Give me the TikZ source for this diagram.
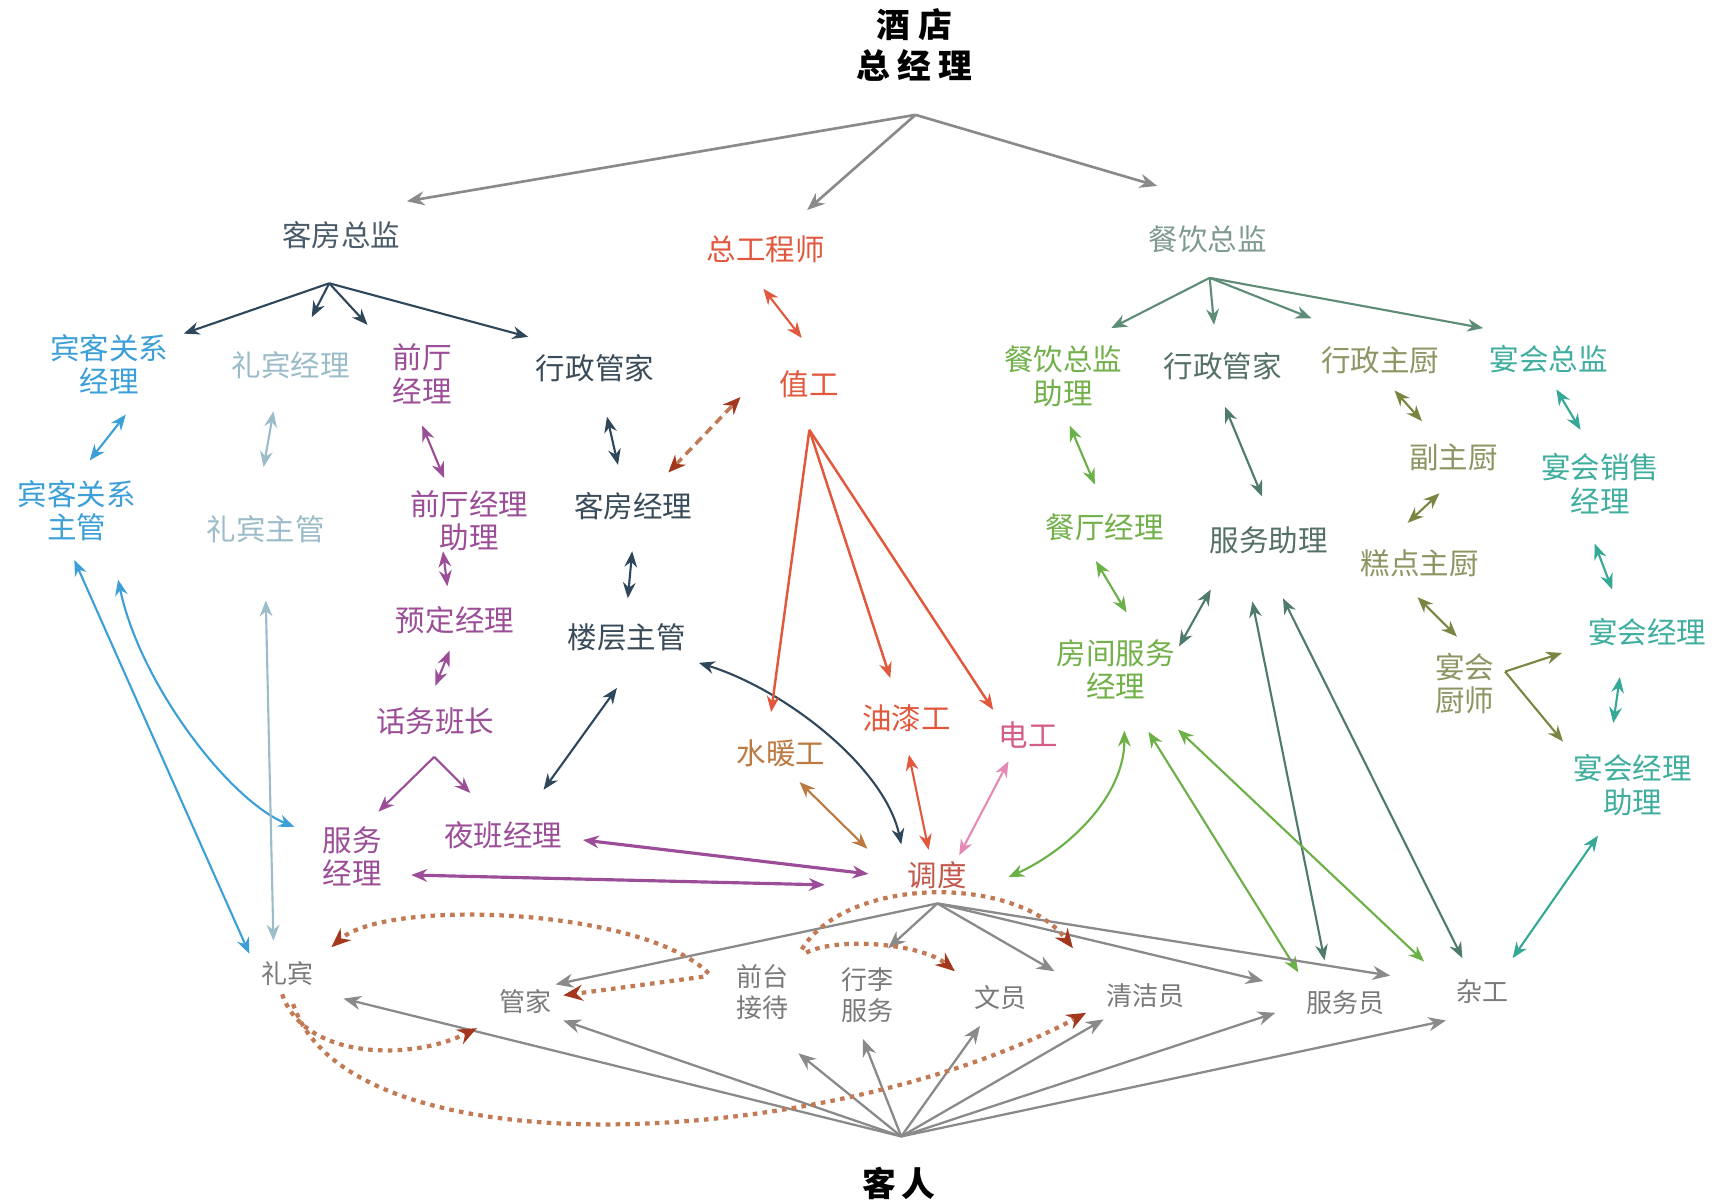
\documentclass[tikz,border=0pt]{standalone}
\usepackage{fontspec}
\setmainfont{Noto Sans CJK SC}
\usetikzlibrary{arrows.meta,calc}
\definecolor{cgray}{HTML}{8A8A8A}
\definecolor{ctg}{HTML}{7A7A7A}
\definecolor{cslate}{HTML}{4A5B68}
\definecolor{cnavy}{HTML}{2F475B}
\definecolor{cnavyt}{HTML}{3A4C5A}
\definecolor{csky}{HTML}{3C9FD8}
\definecolor{cpale}{HTML}{9BBCC8}
\definecolor{cpurple}{HTML}{9B4D97}
\definecolor{cred}{HTML}{E2583C}
\definecolor{cbrown}{HTML}{BC7A42}
\definecolor{cpink}{HTML}{D45C86}
\definecolor{cpinkl}{HTML}{E48AB4}
\definecolor{cdd}{HTML}{C4584A}
\definecolor{cfbg}{HTML}{7F9A90}
\definecolor{cfba}{HTML}{5E8C76}
\definecolor{cgreen}{HTML}{72B04A}
\definecolor{cgreena}{HTML}{6CB048}
\definecolor{cgteal}{HTML}{557068}
\definecolor{cgteala}{HTML}{4F7A6E}
\definecolor{colive}{HTML}{8E9462}
\definecolor{colivea}{HTML}{7C8442}
\definecolor{cteal}{HTML}{3FAE9E}
\definecolor{cteala}{HTML}{35A896}
\definecolor{cdot}{HTML}{C27A55}
\definecolor{cdotr}{HTML}{A3381F}
\newcommand\lblfont{\fontsize{8.4}{9.6}\selectfont}
\newcommand\smlfont{\fontsize{7.4}{8.7}\selectfont}
\newcommand\ttlfont{\fontsize{9.6}{11.8}\selectfont\bfseries}
\tikzset{
  >={Stealth[length=4.5pt,width=3.6pt]},
  lbl/.style={inner sep=1pt, align=center, font=\lblfont},
  sml/.style={inner sep=1pt, align=center, font=\smlfont, text=ctg},
  ttl/.style={inner sep=1pt, align=center, font=\ttlfont, text=black},
  one/.style={->, line width=0.6pt},
  two/.style={<->, line width=0.6pt},
  gar/.style={draw=cgray, line width=0.75pt, -{Stealth[length=5pt,width=4pt]}},
  dots/.style={draw=cdot, line width=1.2pt, dash pattern=on 1.3pt off 1.5pt, -{Stealth[length=5.5pt,width=4.5pt,color=cdotr]}},
  dsh/.style={draw=cdot, line width=1pt, dash pattern=on 2.5pt off 1.6pt, {Stealth[length=5pt,width=4.2pt,color=cdotr]}-{Stealth[length=5pt,width=4.2pt,color=cdotr]}}
}
\begin{document}
\begin{tikzpicture}[x=0.010938cm, y=-0.010938cm]
\fill[white] (0,0) rectangle (1568,1099);
\useasboundingbox (0,0) rectangle (1568,1099);
% ---------- nodes ----------
\node[ttl] (gm) at (836,41) {酒\hspace{0.25em}店\\总\hspace{0.22em}经\hspace{0.22em}理};
\coordinate (gmo) at (837,105);
\node[lbl, text=cslate] (kfzj) at (312,215) {客房总监};
\node[lbl, text=cred] (zgcs) at (700,228) {总工程师};
\node[lbl, text=cfbg] (cyzj) at (1104,219) {餐饮总监};
\coordinate (kfo) at (301,259);
\coordinate (cyo) at (1106,254);
\coordinate (zgo) at (740,393);
\coordinate (hwo) at (397,692);
\coordinate (ycso) at (1376,614);
\coordinate (ddo) at (857,826);
\coordinate (kro) at (824,1039);
\node[lbl, text=csky] (bkgl) at (100,333) {宾客关系\\经理};
\node[lbl, text=cpale] (lbjl) at (266,334) {礼宾经理};
\node[lbl, text=cpurple] (qtjl) at (386,342) {前厅\\经理};
\node[lbl, text=cnavyt] (xzgjL) at (544,337) {行政管家};
\node[lbl, text=cred] (zg) at (740,351) {值工};
\node[lbl, text=cgreen] (cyzl) at (972,344) {餐饮总监\\助理};
\node[lbl, text=cgteal] (xzgjR) at (1118,335) {行政管家};
\node[lbl, text=colive] (xzzc) at (1262,329) {行政主厨};
\node[lbl, text=cteal] (yhzj) at (1416,328) {宴会总监};
\node[lbl, text=csky] (bkzg) at (70,467) {宾客关系\\主管};
\node[lbl, text=cpale] (lbzg) at (243,484) {礼宾主管};
\node[lbl, text=cpurple] (qtzl) at (429,476) {前厅经理\\助理};
\node[lbl, text=cnavyt] (kfjl) at (579,463) {客房经理};
\node[lbl, text=cgreen] (ctjl) at (1010,482) {餐厅经理};
\node[lbl, text=cgteal] (fwzl) at (1160,494) {服务助理};
\node[lbl, text=colive] (fzc) at (1329,418) {副主厨};
\node[lbl, text=cteal] (yhxs) at (1463,442) {宴会销售\\经理};
\node[lbl, text=colive] (gdzc) at (1298,515) {糕点主厨};
\node[lbl, text=cpurple] (ydjl) at (416,567) {预定经理};
\node[lbl, text=cnavyt] (lczg) at (573,583) {楼层主管};
\node[lbl, text=cgreen] (fjfw) at (1020,612) {房间服务\\经理};
\node[lbl, text=colive] (yhcs) at (1339,625) {宴会\\厨师};
\node[lbl, text=cteal] (yhjl) at (1506,578) {宴会经理};
\node[lbl, text=cpurple] (hwbz) at (398,659) {话务班长};
\node[lbl, text=cbrown] (snng) at (714,689) {水暖工};
\node[lbl, text=cred] (yqg) at (829,657) {油漆工};
\node[lbl, text=cpink] (dg) at (940,672) {电工};
\node[lbl, text=cteal] (yhzl) at (1493,718) {宴会经理\\助理};
\node[lbl, text=cpurple] (fwjl) at (322,783) {服务\\经理};
\node[lbl, text=cpurple] (ybjl) at (460,764) {夜班经理};
\node[lbl, text=cdd] (dd) at (857,800) {调度};
\node[sml] (lb) at (263,890) {礼宾};
\node[sml] (gj) at (480,916) {管家};
\node[sml] (qt) at (697,907) {前台\\接待};
\node[sml] (xl) at (793,910) {行李\\服务};
\node[sml] (wy) at (915,912) {文员};
\node[sml] (qjy) at (1047,910) {清洁员};
\node[sml] (fwy) at (1230,917) {服务员};
\node[sml] (zgg) at (1355,907) {杂工};
\node[ttl] (kr) at (822,1082) {客\hspace{0.15em}人};
% ---------- general manager fan ----------
\draw[gar] (gmo) -- ($(kfzj)+(60,-31)$);
\draw[gar] (gmo) -- ($(zgcs)+(38,-36)$);
\draw[gar] (gmo) -- ($(cyzj)+(-46,-49)$);
% ---------- rooms division ----------
\draw[one, cnavy] (kfo) -- ($(bkgl)+(68,-28)$);
\draw[one, cnavy] (kfo) -- ($(lbjl)+(19,-44)$);
\draw[one, cnavy] (kfo) -- ($(qtjl)+(-50,-45)$);
\draw[one, cnavy] (kfo) -- ($(xzgjL)+(-61,-29)$);
\draw[two, csky] ($(bkgl)+(15,46)$) -- ($(bkzg)+(12,-46)$);
\draw[two, cpale] ($(lbjl)+(-16,42)$) -- ($(lbzg)+(-2,-57)$);
\draw[two, cpurple] ($(qtjl)+(0,47)$) -- ($(qtzl)+(-23,-39)$);
\draw[two, cpurple] ($(qtzl)+(-24,28)$) -- ($(ydjl)+(-7,-31)$);
\draw[two, cpurple] ($(ydjl)+(-5,28)$) -- ($(hwbz)+(0,-32)$);
\draw[one, cpurple] (hwo) -- ($(fwjl)+(24,-41)$);
\draw[one, cpurple] (hwo) -- ($(ybjl)+(-30,-39)$);
\draw[two, cnavy] ($(xzgjL)+(11,44)$) -- ($(kfjl)+(-14,-38)$);
\draw[two, cnavy] ($(kfjl)+(-1,41)$) -- ($(lczg)+(1,-36)$);
\draw[two, cnavy] ($(lczg)+(-9,46)$) -- ($(ybjl)+(37,-42)$);
\draw[two, cnavy] ($(lczg)+(66,23)$) .. controls +(80,25) and +(-15,-70) .. ($(dd)+(-33,-28)$);
\draw[two, csky] ($(bkzg)+(-2,45)$) -- ($(lb)+(-35,-18)$);
\draw[two, csky] ($(bkzg)+(38,63)$) .. controls +(20,95) and +(-60,-25) .. ($(fwjl)+(-53,-27)$);
\draw[two, cpale] ($(lbzg)+(0,65)$) -- ($(lb)+(-13,-30)$);
\draw[two, cpurple, line width=0.9pt] ($(ybjl)+(73,4)$) -- ($(dd)+(-63,-1)$);
\draw[two, cpurple, line width=0.9pt] ($(fwjl)+(54,17)$) -- ($(dd)+(-103,9)$);
% ---------- engineering ----------
\draw[two, cred] ($(zgcs)+(-2,36)$) -- ($(zg)+(-7,-42)$);
\draw[dsh] ($(kfjl)+(32,-31)$) -- ($(zg)+(-63,12)$);
\draw[one, cred, line width=0.7pt] (zgo) -- ($(snng)+(-9,-38)$);
\draw[one, cred, line width=0.7pt] (zgo) -- ($(yqg)+(-15,-37)$);
\draw[one, cred, line width=0.7pt] (zgo) -- ($(dg)+(-32,-23)$);
\draw[two, cbrown] ($(snng)+(17,26)$) -- ($(dd)+(-64,-24)$);
\draw[two, cred] ($(yqg)+(2,33)$) -- ($(dd)+(-8,-23)$);
\draw[two, cpinkl] ($(dg)+(-18,24)$) -- ($(dd)+(20,-18)$);
% ---------- food and beverage ----------
\draw[one, cfba] (cyo) -- ($(cyzl)+(44,-44)$);
\draw[one, cfba] (cyo) -- ($(xzgjR)+(-8,-38)$);
\draw[one, cfba] (cyo) -- ($(xzzc)+(-63,-38)$);
\draw[one, cfba] (cyo) -- ($(yhzj)+(-60,-28)$);
\draw[two, cgreena] ($(cyzl)+(6,45)$) -- ($(ctjl)+(-9,-39)$);
\draw[two, cgreena] ($(ctjl)+(-8,31)$) -- ($(fjfw)+(10,-52)$);
\draw[two, cgteala] ($(xzgjR)+(2,37)$) -- ($(fwzl)+(-6,-40)$);
\draw[two, cgteala] ($(fwzl)+(-53,45)$) -- ($(fjfw)+(58,-21)$);
\draw[two, colivea] ($(xzzc)+(13,28)$) -- ($(fzc)+(-29,-33)$);
\draw[two, colivea] ($(fzc)+(-13,33)$) -- ($(gdzc)+(-11,-37)$);
\draw[two, colivea] ($(gdzc)+(-2,31)$) -- ($(yhcs)+(-7,-43)$);
\draw[one, colivea] (ycso) -- ($(yhjl)+(-78,19)$);
\draw[one, colivea] (ycso) -- ($(yhzl)+(-64,-40)$);
\draw[two, cteala] ($(yhzj)+(7,28)$) -- ($(yhxs)+(-18,-49)$);
\draw[two, cteala] ($(yhxs)+(-5,55)$) -- ($(yhjl)+(-32,-39)$);
\draw[two, cteala] ($(yhjl)+(-25,41)$) -- ($(yhzl)+(-18,-57)$);
\draw[two, cteala] ($(yhzl)+(-32,46)$) -- ($(zgg)+(28,-31)$);
\draw[two, cgteala] ($(fwzl)+(-15,56)$) -- ($(fwy)+(-19,-39)$);
\draw[two, cgteala] ($(fwzl)+(13,53)$) -- ($(zgg)+(-18,-31)$);
\draw[two, cgreena] ($(fjfw)+(8,56)$) .. controls +(0,60) and +(55,-25) .. ($(dd)+(65,2)$);
\draw[two, cgreena] ($(fjfw)+(30,57)$) -- ($(fwy)+(-43,-28)$);
\draw[two, cgreena] ($(fjfw)+(57,55)$) -- ($(zgg)+(-53,-28)$);
% ---------- dispatch fan ----------
\draw[gar, line width=0.65pt] (ddo) -- ($(gj)+(28,-16)$);
\draw[gar, line width=0.65pt] (ddo) -- ($(xl)+(19,-43)$);
\draw[gar, line width=0.65pt] (ddo) -- ($(wy)+(49,-24)$);
\draw[gar, line width=0.65pt] (ddo) -- ($(fwy)+(-75,-20)$);
\draw[gar, line width=0.65pt] (ddo) -- ($(zgg)+(-84,-15)$);
% ---------- guest fan ----------
\draw[gar, line width=0.65pt] (kro) -- ($(lb)+(51,23)$);
\draw[gar, line width=0.65pt] (kro) -- ($(gj)+(35,17)$);
\draw[gar, line width=0.65pt] (kro) -- ($(qt)+(33,56)$);
\draw[gar, line width=0.65pt] (kro) -- ($(xl)+(-4,40)$);
\draw[gar, line width=0.65pt] (kro) -- ($(wy)+(-19,26)$);
\draw[gar, line width=0.65pt] (kro) -- ($(qjy)+(-38,22)$);
\draw[gar, line width=0.65pt] (kro) -- ($(fwy)+(-64,9)$);
\draw[gar, line width=0.65pt] (kro) -- ($(zgg)+(-33,26)$);
% ---------- dotted flows ----------
\draw[dots] ($(qt)+(-49,-17)$) .. controls +(-60,-60) and +(50,-45) .. ($(lb)+(40,-24)$);
\draw[dots] ($(qt)+(-54,-14)$) -- ($(gj)+(35,-6)$);
\draw[dots] ($(lb)+(-5,19)$) .. controls +(20,60) and +(-60,30) .. ($(gj)+(-44,24)$);
\draw[dots] ($(lb)+(5,28)$) .. controls +(52,157) and +(-233,124) .. ($(qjy)+(-54,16)$);
\draw[dots] ($(qt)+(36,-39)$) .. controls +(42,-68) and +(-51,-67) .. ($(qjy)+(-66,-43)$);
\draw[dots] ($(qt)+(40,-36)$) .. controls +(30,-15) and +(-30,-25) .. ($(wy)+(-42,-24)$);
\end{tikzpicture}
\end{document}
